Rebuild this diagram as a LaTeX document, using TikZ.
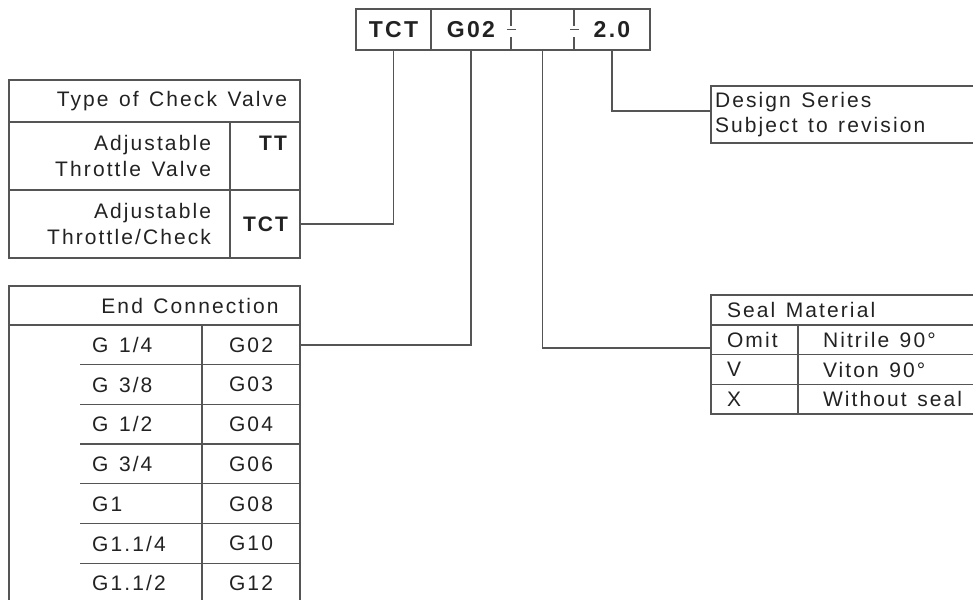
\documentclass[tikz,border=0pt]{standalone}
\usepackage{fontspec}
\setmainfont{Liberation Sans}[LetterSpace=10]
\definecolor{linegray}{HTML}{555555}
\definecolor{inkgray}{HTML}{222222}

\begin{document}
\begin{tikzpicture}[x=1pt,y=-1pt,
    every node/.style={text=inkgray,font=\fontsize{21}{25.5}\selectfont,execute at begin node={\spaceskip=.5em\relax}},
    cell/.style={draw=linegray,line width=1.3pt,anchor=north west,inner ysep=0pt,outer sep=0pt},
    codecell/.style={anchor=north west,minimum height=41,inner sep=0pt,outer sep=0pt,font=\fontsize{23}{26}\selectfont\bfseries},
    boldcell/.style={cell,minimum width=70,minimum height=68,text width=44,inner xsep=13,align=right,font=\fontsize{21}{25.5}\selectfont\bfseries},
    wire/.style={draw=linegray,line width=1.3pt}]
            \useasboundingbox (0,0) rectangle (973,599);

            % ordering code
            \node[codecell,minimum width=75] (tct) at (356,9) {TCT};
            \node[codecell,minimum width=80] (g02) at (431,9) {G02};
            \node[codecell,minimum width=63] (mid) at (511,9) {};
            \node[codecell,minimum width=76] (ds) at (574,9) {2.0};
            \draw[wire] (tct.north west) rectangle (ds.south east);
            \draw[wire] (tct.north east) -- (tct.south east);
            \foreach \c in {g02,mid}{
                \draw[wire] (\c.north east) -- ++(0,17);
                \draw[wire] ([xshift=-4pt]\c.east) -- ++(9,0);
                \draw[wire] (\c.south east) -- ++(0,-13);
            }

            % type of check valve
            \node[cell,minimum width=291,minimum height=42,text width=265,inner xsep=13,align=right] (typehead) at (9,80) {Type of Check Valve};
            \node[cell,minimum width=221,minimum height=68,text width=183,inner xsep=19,align=right] (adjtt) at (9,122) {Adjustable\\Throttle Valve};
            \node[boldcell] (ttrow) at (230,122) {TT\\\mbox{}};
            \node[cell,minimum width=221,minimum height=68,text width=183,inner xsep=19,align=right] (adjtct) at (9,190) {Adjustable\\Throttle/Check};
            \node[boldcell] (tctrow) at (230,190) {TCT};

            % end connection
            \node[cell,minimum width=291,minimum height=39] (endhead) at (9,286) {};
            \node (endtitle) at (190,305.5) {End Connection};
            \draw[wire] (endhead.south west) -- ++(0,300);
            \draw[wire] (endhead.south east) -- ++(0,300);
            \draw[wire] (202,325) -- (202,625);
            \foreach \i/\sz/\code in {0/{G 1/4}/G02,1/{G 3/8}/G03,2/{G 1/2}/G04,3/{G 3/4}/G06,4/G1/G08,5/{G1.1/4}/G10,6/{G1.1/2}/G12}{
                \node[anchor=west,inner sep=0pt] (size\i) at (92,345+39.7*\i) {\sz};
                \node[minimum width=98,minimum height=39.7,inner sep=0pt,outer sep=0pt] (code\i) at (251,345+39.7*\i) {\code};
                \draw[wire] (80,364.7+39.7*\i) -- (300,364.7+39.7*\i);
            }

            % design series and seal
            \node[cell,minimum width=270,minimum height=57,text width=262,inner xsep=4,align=left] (design) at (711,86) {Design Series\\Subject to revision};
            \node[cell,minimum width=270,minimum height=30,text width=238,inner xsep=16,align=left] (sealhead) at (711,295) {Seal Material};
            \foreach \i/\k/\m in {0/Omit/{Nitrile 90°},1/V/{Viton 90°},2/X/{Without seal}}{
                \node[cell,minimum width=87,minimum height=29.7,text width=55,inner xsep=16,align=left] (key\i) at (711,325+29.7*\i) {\k};
                \node[cell,minimum width=200,minimum height=29.7,text width=170,inner xsep=15,align=left] (mat\i) at (798,325+29.7*\i) {\hspace{10pt}\m};
            }

            \draw[wire] (tct.south) |- (tctrow.east);
            \draw[wire] (g02.south) |- (code0.east);
            \draw[wire] (mid.south) |- ([yshift=-8pt]key0.west);
            \draw[wire] (ds.south) |- ([yshift=3.5pt]design.west);
        \end{tikzpicture}
\end{document}
